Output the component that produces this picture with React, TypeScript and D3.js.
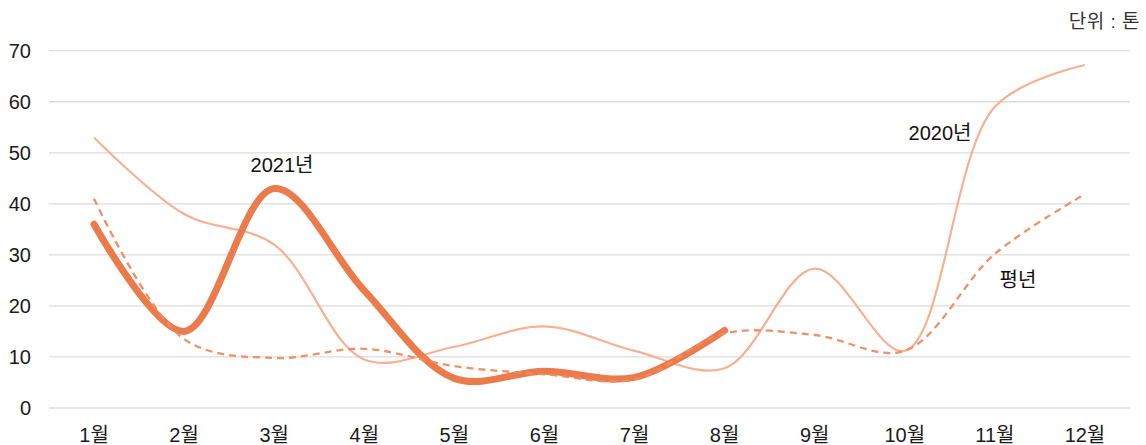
import React from "react";
import * as d3 from "d3";

const months = ["1월", "2월", "3월", "4월", "5월", "6월", "7월", "8월", "9월", "10월", "11월", "12월"];
const yTicks = [0, 10, 20, 30, 40, 50, 60, 70];
const y2021 = [36, 15, 43, 23, 5.8, 7.2, 6, 15.2];
const y2020 = [53, 38, 32, 9.5, 12, 16, 11.2, 7.8, 27.3, 11.2, 59, 67.2];
const yNormal = [41, 13.5, 9.8, 11.6, 8.2, 6.6, 5.6, 14.6, 14.3, 11.2, 30.2, 41.9];

const W = 1146;
const H = 445;
const left = 49;
const right = 1130;
const top = 50.7;
const bottom = 408;

const FONT = "'Liberation Sans', Arial, 'Noto Sans CJK KR', sans-serif";

export default function App() {
  const x = d3.scaleBand<string>().domain(months).range([left, right]);
  const cx = (i: number) => (x(months[i]) as number) + x.bandwidth() / 2;
  const y = d3.scaleLinear().domain([0, 70]).range([bottom, top]);
  const line = d3
    .line<number>()
    .x((_, i) => cx(i))
    .y((d) => y(d))
    .curve(d3.curveCatmullRom.alpha(0.5));

  return (
    <svg width={W} height={H} style={{ display: "block", position: "absolute", left: 0, top: 0 }} fontFamily={FONT}>
      <rect width={W} height={H} fill="#fff" />
      {yTicks.map((t) => (
        <g key={t}>
          <line x1={left} x2={right} y1={y(t)} y2={y(t)} stroke="#dcdcdc" strokeWidth={1.3} />
          <text x={31} y={y(t) + 7} textAnchor="end" fontSize={20} fill="#1a1a1a">
            {t}
          </text>
        </g>
      ))}
      {months.map((m, i) => (
        <text key={m} x={cx(i)} y={442} textAnchor="middle" fontSize={20} fill="#1a1a1a">
          {m}
        </text>
      ))}
      <path d={line(y2020) || ""} fill="none" stroke="#F6B193" strokeWidth={2.2} />
      <path d={line(y2021) || ""} fill="none" stroke="#EC7B4B" strokeWidth={7} strokeLinecap="round" />
      <path d={line(yNormal) || ""} fill="none" stroke="#EF8A60" strokeWidth={2.3} strokeDasharray="7 5" opacity={0.95} />
      <text x={282} y={172} textAnchor="middle" fontSize={20} fill="#111">2021년</text>
      <text x={940} y={140} textAnchor="middle" fontSize={20} fill="#111">2020년</text>
      <text x={1018} y={287} textAnchor="middle" fontSize={20} fill="#111">평년</text>
      <text x={1140} y={28} textAnchor="end" fontSize={19} fill="#333" letterSpacing={0.5}>단위 : 톤</text>
    </svg>
  );
}
